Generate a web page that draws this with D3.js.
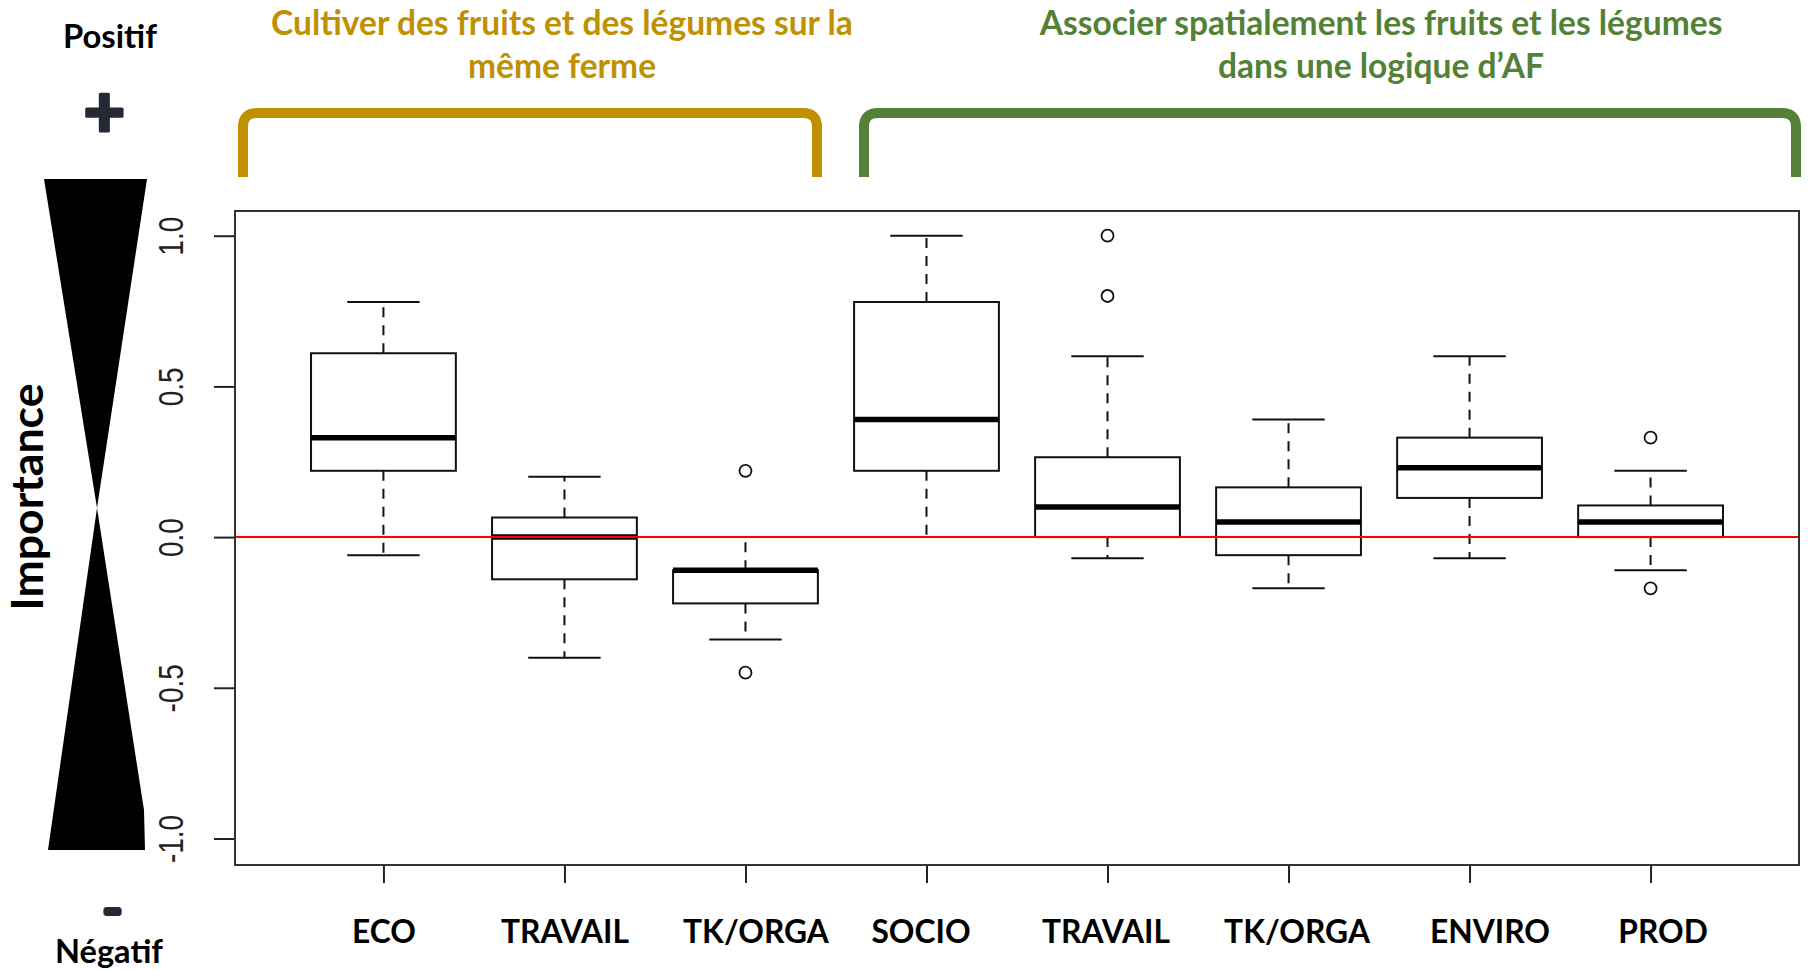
<!DOCTYPE html>
<html>
<head>
<meta charset="utf-8">
<script src="https://cdn.jsdelivr.net/npm/d3@7"></script>
<style>
  body { margin: 0; background: #fff; }
  svg { display: block; }
</style>
</head>
<body>
<div class="chart-div"></div>
<script>
const w = 1808;
const h = 971;

// values
const categories = ["ECO", "TRAVAIL", "TK/ORGA", "SOCIO", "TRAVAIL", "TK/ORGA", "ENVIRO", "PROD"];
const lowerWhisker = [-0.06, -0.40, -0.34, 0.00, -0.07, -0.17, -0.07, -0.11];
const q1 = [0.22, -0.14, -0.22, 0.22, 0.00, -0.06, 0.13, 0.00];
const medians = [0.33, 0.00, -0.11, 0.39, 0.10, 0.05, 0.23, 0.05];
const q3 = [0.61, 0.065, -0.11, 0.78, 0.265, 0.165, 0.33, 0.105];
const upperWhisker = [0.78, 0.20, 0.00, 1.00, 0.60, 0.39, 0.60, 0.22];
const outliers = [[], [], [0.22, -0.45], [], [1.00, 0.80], [], [], [0.33, -0.17]];
const yTicks = [-1, -0.5, 0, 0.5, 1];

const groupTitles = [
  ["Cultiver des fruits et des légumes sur la", "même ferme"],
  ["Associer spatialement les fruits et les légumes", "dans une logique d’AF"]
];
const groupColors = ["#BF9000", "#538135"];

// labels were placed by hand under the ticks, small nudges in px
const labelNudge = [0, 0, 10, -6, -2, 8, 20, 12];

const svg = d3.select(".chart-div")
              .append("svg")
              .attr("width", w)
              .attr("height", h);

const xScale = d3.scaleLinear().domain([0.18, 8.82]).range([235, 1799]);
const yScale = d3.scaleLinear().domain([-1.088, 1.082]).range([865, 211]);

const boxes = categories.map((c, i) => ({
  pos: i + 1, label: c,
  lw: lowerWhisker[i], q1: q1[i], med: medians[i], q3: q3[i], uw: upperWhisker[i],
  out: outliers[i]
}));

// fit a text's font size to a width measured on the picture
function fit(sel, target) {
  const node = sel.node();
  const size = parseFloat(sel.attr("font-size"));
  const len = node.getComputedTextLength();
  const s = size * target / len;
  sel.attr("font-size", s);
  return s;
}

// axes
const yAxis = d3.axisLeft(yScale).tickValues(yTicks).tickSize(21).tickFormat(d => d.toFixed(1));
const gy = svg.append("g").attr("id", "y-axis").attr("transform", "translate(235,0)").call(yAxis);
gy.select(".domain").remove();
gy.selectAll(".tick line").attr("stroke", "#222").attr("stroke-width", 2);
gy.selectAll(".tick text")
  .attr("font-family", "'Liberation Sans', Arial, sans-serif")
  .attr("font-size", 35)
  .attr("fill", "#222")
  .attr("text-anchor", "middle")
  .attr("transform", "rotate(-90) scale(0.8,1)")
  .attr("x", 0)
  .attr("y", -52)
  .attr("dy", 0);

const xAxis = d3.axisBottom(xScale).tickValues(boxes.map(d => d.pos)).tickSize(18)
                .tickFormat((d, i) => categories[i]);
const gx = svg.append("g").attr("id", "x-axis").attr("transform", "translate(0,865)").call(xAxis);
gx.select(".domain").remove();
gx.selectAll(".tick line").attr("stroke", "#222").attr("stroke-width", 2);
const xt = gx.selectAll(".tick text")
  .attr("font-family", "Lato, sans-serif")
  .attr("font-weight", 700)
  .attr("font-size", 32)
  .attr("fill", "#000")
  .attr("x", (d, i) => labelNudge[i])
  .attr("y", 78)
  .attr("dy", 0);
const labSize = fit(gx.select(".tick:nth-of-type(2) text"), 128);
xt.attr("font-size", labSize);

// boxes
const half = xScale(1.4) - xScale(1);
const cap = xScale(1.2) - xScale(1);

const g = svg.selectAll(".box").data(boxes).enter().append("g").attr("class", "box");

g.append("line") // upper whisker
  .attr("x1", d => xScale(d.pos)).attr("x2", d => xScale(d.pos))
  .attr("y1", d => yScale(d.q3)).attr("y2", d => yScale(d.uw))
  .attr("stroke", "#111").attr("stroke-width", 2).attr("stroke-dasharray", "10,8");
g.append("line") // lower whisker
  .attr("x1", d => xScale(d.pos)).attr("x2", d => xScale(d.pos))
  .attr("y1", d => yScale(d.q1)).attr("y2", d => yScale(d.lw))
  .attr("stroke", "#111").attr("stroke-width", 2).attr("stroke-dasharray", "10,8");
["uw", "lw"].forEach(k => {
  g.append("line")
    .attr("x1", d => xScale(d.pos) - cap).attr("x2", d => xScale(d.pos) + cap)
    .attr("y1", d => yScale(d[k])).attr("y2", d => yScale(d[k]))
    .attr("stroke", "#111").attr("stroke-width", 2);
});
g.append("rect")
  .attr("x", d => xScale(d.pos) - half)
  .attr("width", 2 * half)
  .attr("y", d => yScale(d.q3))
  .attr("height", d => yScale(d.q1) - yScale(d.q3))
  .attr("fill", "none").attr("stroke", "#111").attr("stroke-width", 2);
g.append("line")
  .attr("x1", d => xScale(d.pos) - half).attr("x2", d => xScale(d.pos) + half)
  .attr("y1", d => yScale(d.med)).attr("y2", d => yScale(d.med))
  .attr("stroke", "#000").attr("stroke-width", 5.5);
g.selectAll("circle").data(d => d.out.map(v => ({pos: d.pos, v}))).enter()
  .append("circle")
  .attr("cx", d => xScale(d.pos))
  .attr("cy", d => yScale(d.v))
  .attr("r", 6)
  .attr("fill", "none").attr("stroke", "#111").attr("stroke-width", 1.8);

// zero line
svg.append("line")
  .attr("x1", xScale.range()[0]).attr("x2", xScale.range()[1])
  .attr("y1", yScale(0)).attr("y2", yScale(0))
  .attr("stroke", "#ff0000").attr("stroke-width", 2);

// frame
svg.append("rect")
  .attr("x", 235).attr("y", 211).attr("width", 1564).attr("height", 654)
  .attr("fill", "none").attr("stroke", "#333").attr("stroke-width", 2);

// group brackets and titles
const brackets = [[243, 817], [864, 1796]];
const titleX = [562, 1381];
brackets.forEach((b, i) => {
  const r = 14;
  svg.append("path")
    .attr("d", `M${b[0]},177 L${b[0]},${113 + r} Q${b[0]},113 ${b[0] + r},113 L${b[1] - r},113 Q${b[1]},113 ${b[1]},${113 + r} L${b[1]},177`)
    .attr("fill", "none").attr("stroke", groupColors[i]).attr("stroke-width", 10);
});
let titleSize = null;
groupTitles.forEach((lines, i) => {
  lines.forEach((t, j) => {
    const tx = svg.append("text")
      .attr("x", titleX[i]).attr("y", 35 + j * 43)
      .attr("text-anchor", "middle")
      .attr("font-family", "Lato, sans-serif").attr("font-weight", 700)
      .attr("font-size", 30).attr("fill", groupColors[i])
      .text(t);
    if (titleSize === null) titleSize = fit(tx, 582);
    tx.attr("font-size", titleSize);
  });
});

// importance scale on the left
svg.append("path")
  .attr("d", "M44,179 L147,179 L97,508 L144,810 L145,850 L48,850 L97,508 Z")
  .attr("fill", "#000");

const imp = svg.append("text")
  .attr("transform", "translate(43,497) rotate(-90)")
  .attr("text-anchor", "middle")
  .attr("font-family", "Lato, sans-serif").attr("font-weight", 700)
  .attr("font-size", 42).attr("fill", "#000")
  .text("Importance");
fit(imp, 227);

const pos = svg.append("text").attr("x", 110).attr("y", 48).attr("text-anchor", "middle")
  .attr("font-family", "Lato, sans-serif").attr("font-weight", 700)
  .attr("font-size", 30).attr("fill", "#000").text("Positif");
fit(pos, 94);
const neg = svg.append("text").attr("x", 109).attr("y", 963).attr("text-anchor", "middle")
  .attr("font-family", "Lato, sans-serif").attr("font-weight", 700)
  .attr("font-size", 30).attr("fill", "#000").text("Négatif");
fit(neg, 108);

function centerAt(sel, cx, cy) {
  const bb = sel.node().getBBox();
  const x0 = parseFloat(sel.attr("x")), y0 = parseFloat(sel.attr("y"));
  sel.attr("x", x0 + cx - (bb.x + bb.width / 2)).attr("y", y0 + cy - (bb.y + bb.height / 2));
}
const plus = svg.append("text").attr("x", 0).attr("y", 0).attr("text-anchor", "start")
  .attr("font-family", "Lato, sans-serif").attr("font-weight", 900)
  .attr("font-size", 72).attr("fill", "#232A36")
  .attr("stroke", "#232A36").attr("stroke-width", 3).attr("stroke-linejoin", "round")
  .text("+");
centerAt(plus, 104.5, 109);
const minus = svg.append("text").attr("x", 0).attr("y", 0).attr("text-anchor", "start")
  .attr("font-family", "Lato, sans-serif").attr("font-weight", 900)
  .attr("font-size", 30).attr("fill", "#232A36")
  .attr("stroke", "#232A36").attr("stroke-width", 6).attr("stroke-linejoin", "round")
  .text("–");
centerAt(minus, 112.5, 909);
</script>
</body>
</html>
